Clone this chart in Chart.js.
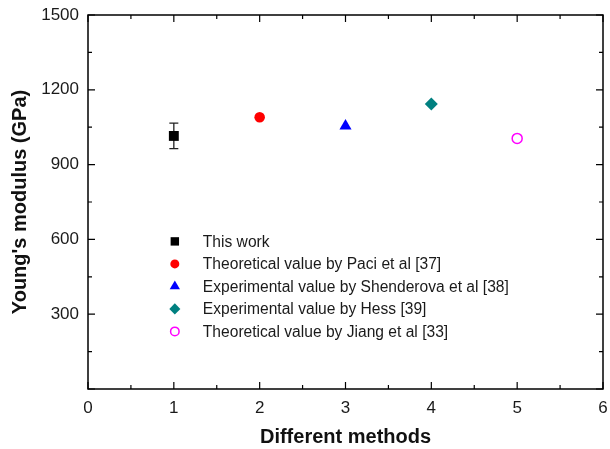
<!DOCTYPE html>
<html>
<head>
<meta charset="utf-8">
<script src="https://cdn.jsdelivr.net/npm/chart.js@4.4.0/dist/chart.umd.min.js"></script>
<style>
  html, body { margin: 0; padding: 0; background: #fff; }
  #wrap { width: 610px; height: 449px; }
</style>
</head>
<body>
<div id="wrap"><canvas id="chart" width="610" height="449"></canvas></div>
<script>
// Методы и значения модуля Юнга (ГПа)
const methodLabels = [
    'This work',
    'Theoretical value by Paci et al [37]',
    'Experimental value by Shenderova et al [38]',
    'Experimental value by Hess [39]',
    'Theoretical value by Jiang et al [33]'
];
const methodX = [1, 2, 3, 4, 5];
const modulusValues = [1015, 1090, 1055, 1143, 1005];
const modulusErrors = [51, 0, 0, 0, 0];
const yTicks = [300, 600, 900, 1200, 1500];

const pointStyles = ['rect', 'circle', 'triangle', 'rectRot', 'circle'];
const pointColors = ['#000000', '#ff0000', '#0000ff', '#008080', '#ff00ff'];
const pointFilled = [true, true, true, true, false];
const pointSizes = [7, 5.3, 7, 6.5, 5];

const FONT = 'Liberation Sans, Arial, Helvetica, sans-serif';

const datasets = methodLabels.map((label, i) => ({
    label: label,
    data: [{ x: methodX[i], y: modulusValues[i] }],
    pointStyle: pointStyles[i],
    pointRadius: pointSizes[i],
    pointBackgroundColor: pointFilled[i] ? pointColors[i] : 'rgba(0,0,0,0)',
    pointBorderColor: pointColors[i],
    pointBorderWidth: pointFilled[i] ? 0 : 1.5,
    showLine: false
}));

// Рамка графика и засечки внутрь по всем сторонам
const frameTicks = {
    id: 'frameTicks',
    afterDraw(chart) {
        const ctx = chart.ctx;
        const a = chart.chartArea;
        const xs = chart.scales.x, ys = chart.scales.y;
        ctx.save();
        ctx.strokeStyle = '#000';
        ctx.lineWidth = 1.5;
        ctx.strokeRect(a.left, a.top, a.right - a.left, a.bottom - a.top);
        ctx.lineWidth = 1.2;
        ctx.beginPath();
        for (let v = 0; v <= 6.001; v += 0.5) {
            const px = xs.getPixelForValue(v);
            const len = Math.abs(v - Math.round(v)) < 1e-6 ? 7 : 4;
            ctx.moveTo(px, a.bottom); ctx.lineTo(px, a.bottom - len);
            ctx.moveTo(px, a.top); ctx.lineTo(px, a.top + len);
        }
        for (let v = 0; v <= 1500; v += 150) {
            const py = ys.getPixelForValue(v);
            const len = v % 300 === 0 ? 7 : 4;
            ctx.moveTo(a.left, py); ctx.lineTo(a.left + len, py);
            ctx.moveTo(a.right, py); ctx.lineTo(a.right - len, py);
        }
        ctx.stroke();
        ctx.restore();
    }
};

// Планка погрешности
const errorBars = {
    id: 'errorBars',
    beforeDatasetsDraw(chart) {
        const ctx = chart.ctx;
        const xs = chart.scales.x, ys = chart.scales.y;
        ctx.save();
        ctx.strokeStyle = '#222';
        ctx.lineWidth = 1.3;
        modulusErrors.forEach((err, i) => {
            if (!err) return;
            const px = xs.getPixelForValue(methodX[i]);
            const yHi = ys.getPixelForValue(modulusValues[i] + err);
            const yLo = ys.getPixelForValue(modulusValues[i] - err);
            ctx.beginPath();
            ctx.moveTo(px, yHi); ctx.lineTo(px, yLo);
            ctx.moveTo(px - 4.5, yHi); ctx.lineTo(px + 4.5, yHi);
            ctx.moveTo(px - 4.5, yLo); ctx.lineTo(px + 4.5, yLo);
            ctx.stroke();
        });
        ctx.restore();
    }
};

// Легенда внутри области графика
const insideLegend = {
    id: 'insideLegend',
    afterDraw(chart) {
        const ctx = chart.ctx;
        const xs = chart.scales.x, ys = chart.scales.y;
        const symX = xs.getPixelForValue(1) + 1;
        const textX = symX + 28;
        const y0 = ys.getPixelForValue(592);
        const step = 22.5;
        ctx.save();
        ctx.font = '15.6px ' + FONT;
        ctx.textBaseline = 'middle';
        methodLabels.forEach((label, i) => {
            const y = y0 + i * step;
            const ds = chart.data.datasets[i];
            ctx.fillStyle = ds.pointBackgroundColor;
            ctx.strokeStyle = ds.pointBorderColor;
            ctx.lineWidth = ds.pointBorderWidth;
            Chart.helpers.drawPoint(ctx, {
                pointStyle: ds.pointStyle,
                radius: ds.pointRadius * 0.85,
                borderWidth: ds.pointBorderWidth,
                rotation: 0
            }, symX, y);
            ctx.fillStyle = '#1a1a1a';
            ctx.fillText(label, textX, y + 1);
        });
        ctx.restore();
    }
};

new Chart(document.getElementById('chart').getContext('2d'), {
    type: 'scatter',
    data: { datasets: datasets },
    options: {
        responsive: false,
        animation: false,
        layout: { padding: { top: 15, right: 6, left: 0, bottom: 0 } },
        plugins: {
            legend: { display: false },
            tooltip: { enabled: false }
        },
        scales: {
            x: {
                type: 'linear',
                min: 0,
                max: 6,
                grid: { display: false, drawTicks: false },
                border: { display: false },
                afterFit: s => { s.height = 60; s.paddingLeft = 0; s.paddingRight = 0; },
                ticks: {
                    stepSize: 1,
                    padding: 9,
                    color: '#1a1a1a',
                    font: { family: FONT, size: 17 }
                },
                title: {
                    display: true,
                    text: 'Different methods',
                    color: '#111',
                    padding: { top: 0, bottom: 0 },
                    font: { family: FONT, size: 20, weight: 'bold' }
                }
            },
            y: {
                type: 'linear',
                min: 0,
                max: 1500,
                grid: { display: false, drawTicks: false },
                border: { display: false },
                afterFit: s => { s.width = 88; s.paddingTop = 0; s.paddingBottom = 0; },
                afterBuildTicks: s => { s.ticks = yTicks.map(v => ({ value: v })); },
                ticks: {
                    padding: 9,
                    color: '#1a1a1a',
                    font: { family: FONT, size: 17 },
                    callback: v => String(v)
                },
                title: {
                    display: true,
                    text: "Young's modulus (GPa)",
                    color: '#111',
                    padding: { top: 8, bottom: 0 },
                    font: { family: FONT, size: 20, weight: 'bold' }
                }
            }
        }
    },
    plugins: [errorBars, frameTicks, insideLegend]
});
</script>
</body>
</html>
